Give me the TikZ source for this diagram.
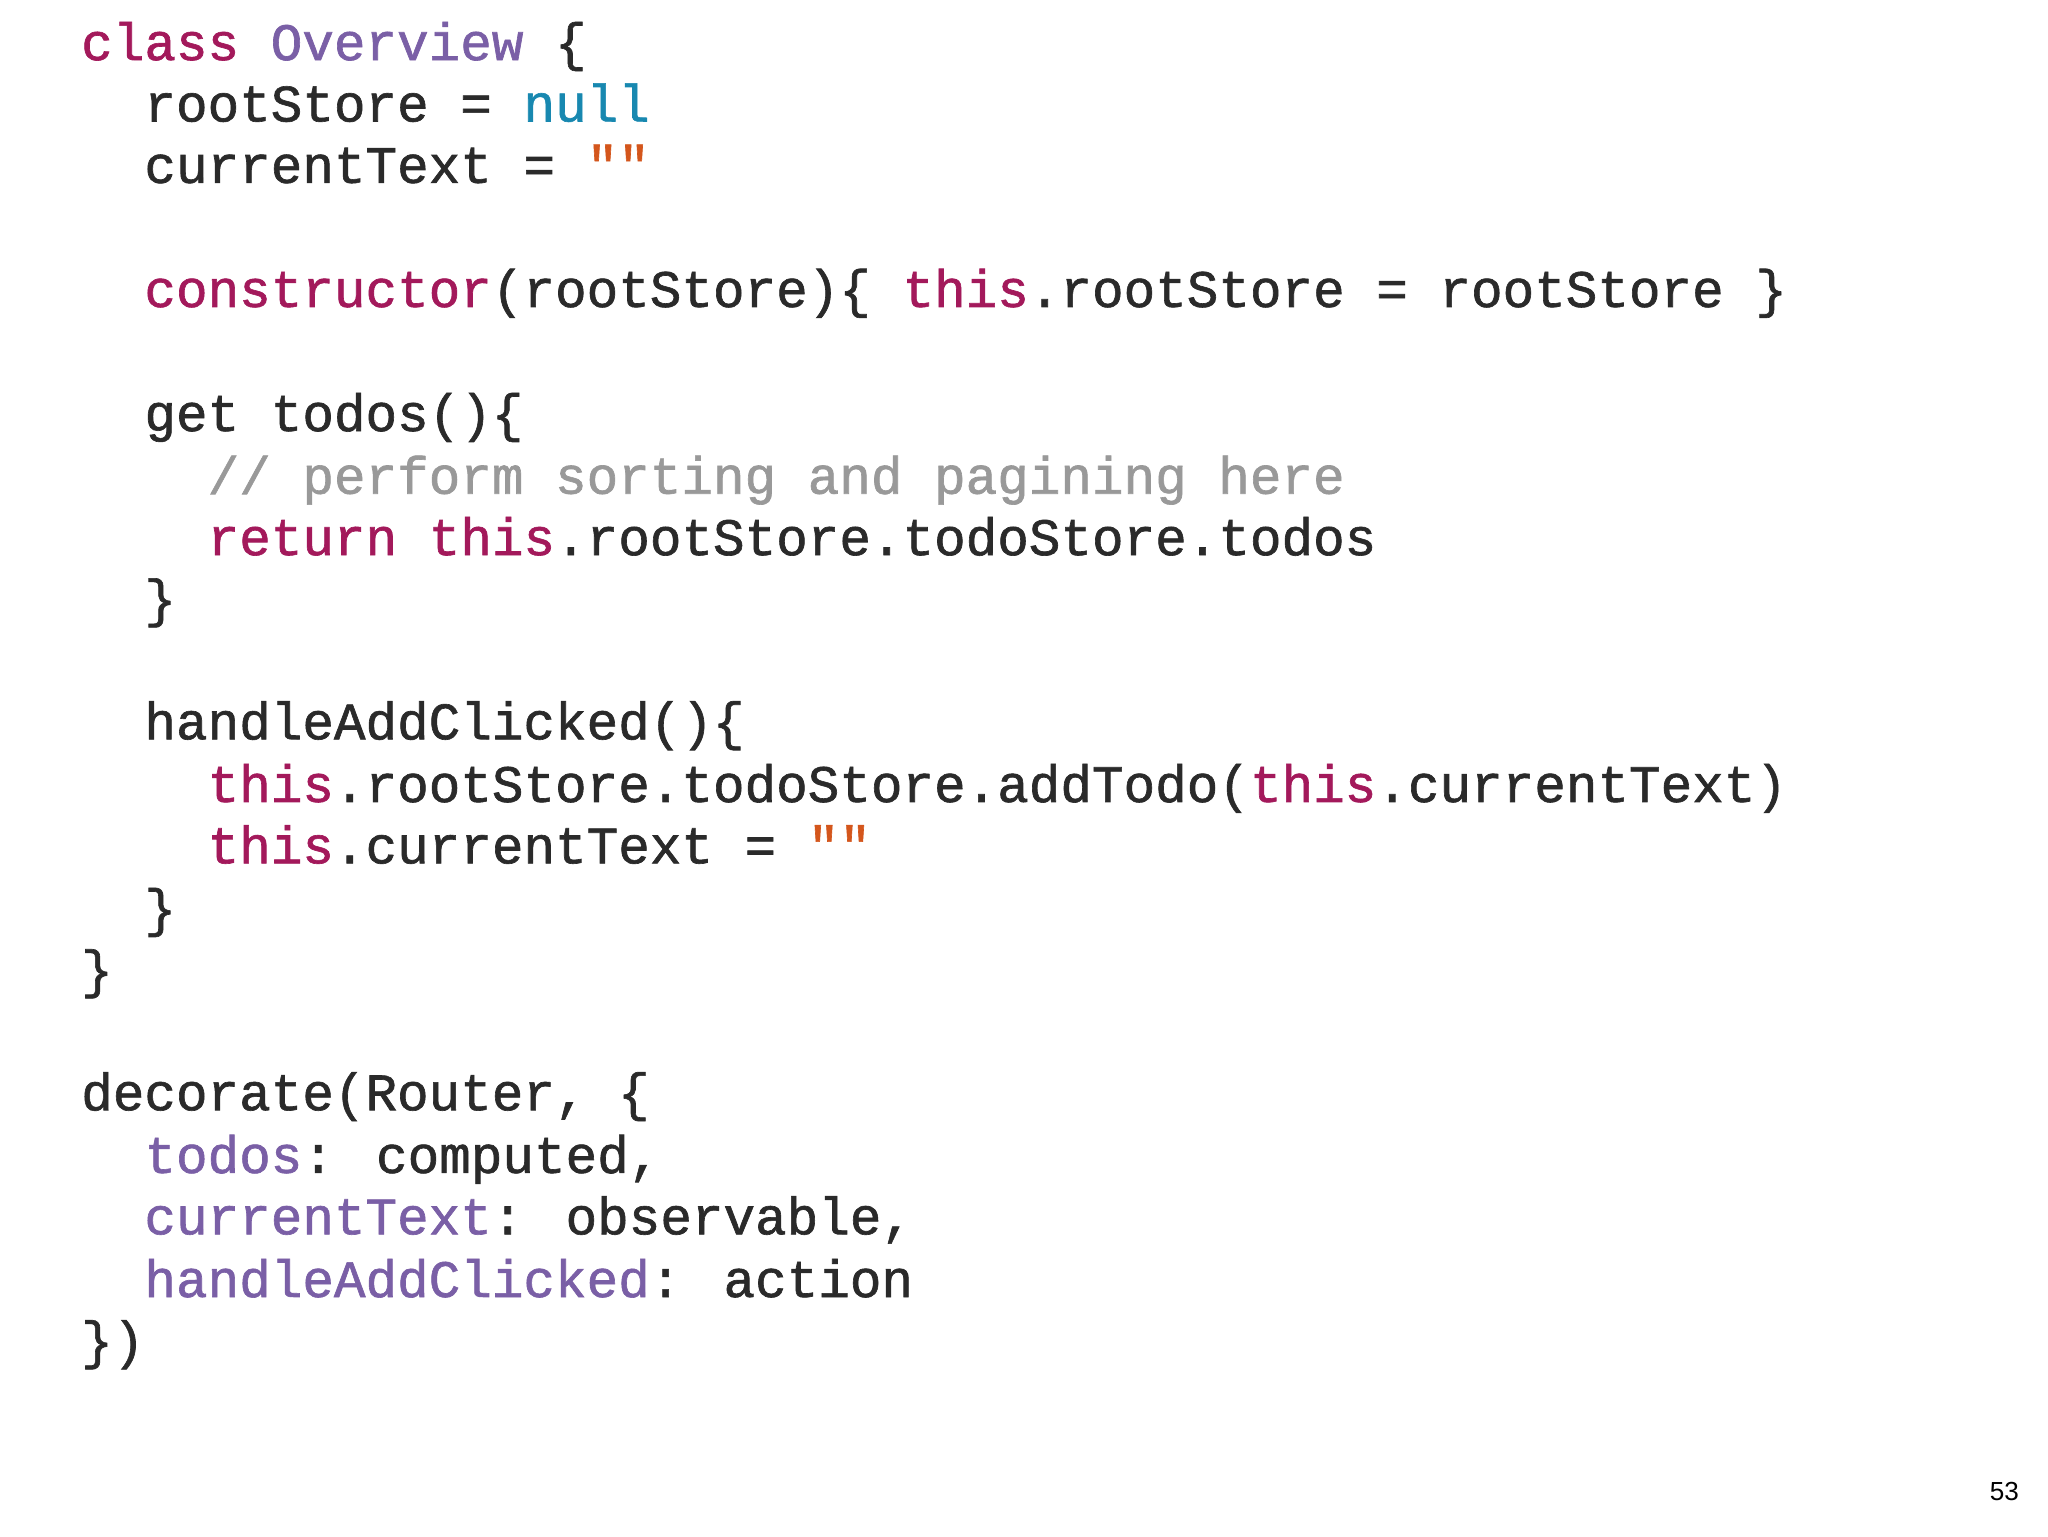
\documentclass[tikz,border=0pt]{standalone}
\usepackage{fontspec}
\newfontfamily\codefont{Liberation Mono}[FakeBold=1.2]
\setsansfont{Liberation Sans}
\definecolor{kw}{HTML}{A3195B}
\definecolor{cls}{HTML}{7A5FA6}
\definecolor{nul}{HTML}{1888B0}
\definecolor{str}{HTML}{D4561C}
\definecolor{cmt}{HTML}{999999}
\definecolor{txt}{HTML}{2A2A2A}
\begin{document}
\begin{tikzpicture}[x=1pt,y=1pt,
  ln/.style={anchor=base west,inner sep=0pt,text=txt,font=\codefont\fontsize{40.3}{47}\selectfont}]
\useasboundingbox[fill=white] (0,0) rectangle (1568,-1176);
\newcommand\K[1]{\textcolor{kw}{#1}}
\newcommand\C[1]{\textcolor{cls}{#1}}
\node[ln] (l1) at (62,-46) {\K{class} \C{Overview} \{};
\node[ln] (l2) at (110.4,-93) {rootStore = \textcolor{nul}{null}};
\node[ln] (l3) at (110.4,-140) {currentText = \textcolor{str}{""}};
\node[ln] (l4) at (110.4,-235) {\K{constructor}(rootStore)\{ \K{this}.rootStore = rootStore \}};
\node[ln] (l5) at (110.4,-330) {get todos()\{};
\node[ln] (l6) at (158.8,-378) {\textcolor{cmt}{// perform sorting and pagining here}};
\node[ln] (l7) at (158.8,-425) {\K{return} \K{this}.rootStore.todoStore.todos};
\node[ln] (l8) at (110.4,-472) {\}};
\node[ln] (l9) at (110.4,-566) {handleAddClicked()\{};
\node[ln] (l10) at (158.8,-614) {\K{this}.rootStore.todoStore.addTodo(\K{this}.currentText)};
\node[ln] (l11) at (158.8,-661) {\K{this}.currentText = \textcolor{str}{""}};
\node[ln] (l12) at (110.4,-709) {\}};
\node[ln] (l13) at (62,-756) {\}};
\node[ln] (l14) at (62,-850) {decorate(Router, \{};
\node[ln] (l15) at (110.4,-898) {\C{todos}: computed,};
\node[ln] (l16) at (110.4,-945) {\C{currentText}: observable,};
\node[ln] (l17) at (110.4,-993) {\C{handleAddClicked}: action};
\node[ln] (l18) at (62,-1040) {\})};
\node[anchor=base east,inner sep=0pt,font=\sffamily\fontsize{20}{24}\selectfont] (pg) at (1546,-1149) {53};
\end{tikzpicture}
\end{document}
